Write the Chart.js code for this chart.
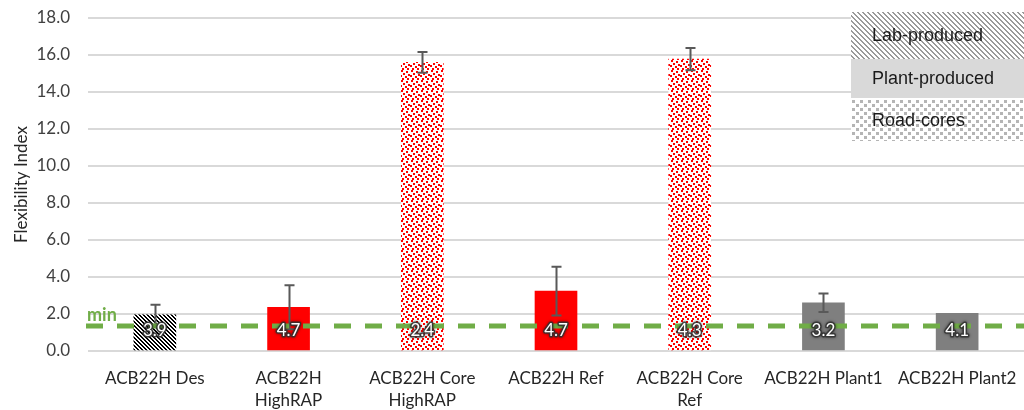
<!DOCTYPE html>
<html>
<head>
<meta charset="utf-8">
<script src="https://cdn.jsdelivr.net/npm/chart.js@4.4.1/dist/chart.umd.min.js"></script>
<style>
  html, body { margin: 0; padding: 0; background: #ffffff; }
  #wrap { width: 1024px; height: 410px; }
</style>
</head>
<body>
<div id="wrap"><canvas id="fiChart" width="1024" height="410"></canvas></div>
<script>
// Mix names (multi-line where the label wraps)
const categories = [
  ['ACB22H Des'],
  ['ACB22H', 'HighRAP'],
  ['ACB22H Core', 'HighRAP'],
  ['ACB22H Ref'],
  ['ACB22H Core', 'Ref'],
  ['ACB22H Plant1'],
  ['ACB22H Plant2']
];
// Mean flexibility index and its standard deviation
const flexIndex = [1.95, 2.36, 15.60, 3.24, 15.78, 2.61, 2.04];
const flexStdDev = [0.55, 1.19, 0.56, 1.32, 0.60, 0.50, 0];
// Values printed inside each bar
const barNotes = ['3.9', '4.7', '2.4', '4.7', '4.3', '3.2', '4.1'];
// Production type of each specimen set
const production = ['lab', 'plant', 'core', 'plant', 'core', 'plantRef', 'plantRef'];
// Minimum acceptable flexibility index
const minFI = 1.35;
// Y-axis ticks
const yMin = 0, yMax = 18, yStep = 2;
// Legend entries
const legendItems = ['Lab-produced', 'Plant-produced', 'Road-cores'];

const FONT = 'Lato, "Open Sans", sans-serif';

// ---- fill patterns ----
function makeTile(w, h, bg, painter) {
  const c = document.createElement('canvas');
  c.width = w; c.height = h;
  const g = c.getContext('2d');
  g.fillStyle = bg; g.fillRect(0, 0, w, h);
  painter(g);
  return c;
}
const pctx = document.getElementById('fiChart').getContext('2d');

// diagonal "\" stripes
function stripeTile(period, thick, color) {
  return makeTile(period, period, '#ffffff', g => {
    g.fillStyle = color;
    for (let y = 0; y < period; y++)
      for (let x = 0; x < period; x++)
        if (((x - y) % period + period) % period < thick) g.fillRect(x, y, 1, 1);
  });
}
// scattered small squares
function dotTile(size, dots, dot, color) {
  return makeTile(size, size, '#ffffff', g => {
    g.fillStyle = color;
    dots.forEach(([x, y]) => {
      g.fillRect(x, y, dot, dot);
      if (x + dot > size) g.fillRect(x - size, y, dot, dot);
      if (y + dot > size) g.fillRect(x, y - size, dot, dot);
    });
  });
}

const patLabBar = pctx.createPattern(stripeTile(4, 2, '#000000'), 'repeat');
const patLabLegend = pctx.createPattern(stripeTile(5, 2, '#9a9a9a'), 'repeat');
const patCoreBar = pctx.createPattern(
  dotTile(10, [[1, 0], [6, 1], [3, 3], [8, 4], [0, 5], [5, 6], [2, 8], [7, 8]], 2, '#ff0000'), 'repeat');
const patCoreLegend = pctx.createPattern(
  dotTile(8, [[0, 0], [4, 4]], 3, '#b5b5b5'), 'repeat');

const fillFor = {
  lab: patLabBar,
  plant: '#ff0000',
  core: patCoreBar,
  plantRef: '#7f7f7f'
};
const barFills = production.map(p => fillFor[p]);

// ---- plugins ----
const errorBars = {
  id: 'errorBars',
  afterDatasetsDraw(chart) {
    const { ctx } = chart;
    const y = chart.scales.y;
    const meta = chart.getDatasetMeta(0);
    ctx.save();
    ctx.strokeStyle = '#595959';
    ctx.lineWidth = 2;
    meta.data.forEach((bar, i) => {
      const sd = flexStdDev[i];
      if (!sd) return;
      const x = Math.round(bar.x) + 0.5;
      const yt = y.getPixelForValue(flexIndex[i] + sd);
      const yb = y.getPixelForValue(flexIndex[i] - sd);
      ctx.beginPath();
      ctx.moveTo(x, yt); ctx.lineTo(x, yb);
      ctx.moveTo(x - 5, yt); ctx.lineTo(x + 5, yt);
      ctx.moveTo(x - 5, yb); ctx.lineTo(x + 5, yb);
      ctx.stroke();
    });
    ctx.restore();
  }
};

const minLine = {
  id: 'minLine',
  afterDatasetsDraw(chart) {
    const { ctx, chartArea } = chart;
    const yp = chart.scales.y.getPixelForValue(minFI);
    ctx.save();
    ctx.strokeStyle = '#70ad47';
    ctx.lineWidth = 5;
    ctx.setLineDash([17, 14]);
    ctx.beginPath();
    ctx.moveTo(chartArea.left - 2, yp);
    ctx.lineTo(chartArea.right, yp);
    ctx.stroke();
    ctx.setLineDash([]);
    ctx.fillStyle = '#70ad47';
    ctx.font = 'bold 18px ' + FONT;
    ctx.textAlign = 'left';
    ctx.textBaseline = 'middle';
    ctx.fillText('min', chartArea.left - 1, yp - 11);
    ctx.restore();
  }
};

const barNoteLabels = {
  id: 'barNoteLabels',
  afterDatasetsDraw(chart) {
    const { ctx } = chart;
    const base = chart.scales.y.getPixelForValue(0);
    const meta = chart.getDatasetMeta(0);
    ctx.save();
    ctx.font = '17px ' + FONT;
    ctx.textAlign = 'center';
    ctx.textBaseline = 'middle';
    ctx.lineJoin = 'round';
    meta.data.forEach((bar, i) => {
      const x = bar.x, yy = base - 20;
      ctx.shadowColor = 'rgba(0,0,0,0.6)';
      ctx.shadowBlur = 3;
      ctx.strokeStyle = 'rgba(50,50,50,0.85)';
      ctx.lineWidth = 3;
      ctx.strokeText(barNotes[i], x, yy);
      ctx.shadowBlur = 0;
      ctx.shadowColor = 'transparent';
      ctx.fillStyle = '#ffffff';
      ctx.fillText(barNotes[i], x, yy);
    });
    ctx.restore();
  }
};

const productionLegend = {
  id: 'productionLegend',
  afterDraw(chart) {
    const { ctx, chartArea } = chart;
    const right = chart.width;
    const left = right - 173;
    const rows = [
      { top: chartArea.top - 6, h: 47, fill: patLabLegend },
      { top: chartArea.top + 41, h: 39, fill: '#d9d9d9' },
      { top: chartArea.top + 82, h: 41, fill: patCoreLegend }
    ];
    ctx.save();
    ctx.font = '18px "Liberation Sans", Arial, sans-serif';
    ctx.textAlign = 'left';
    ctx.textBaseline = 'middle';
    rows.forEach((r, i) => {
      ctx.fillStyle = r.fill;
      ctx.fillRect(left, r.top, right - left, r.h);
      ctx.fillStyle = '#1a1a1a';
      ctx.fillText(legendItems[i], left + 21, r.top + r.h / 2 + 1);
    });
    ctx.restore();
  }
};

new Chart(document.getElementById('fiChart'), {
  type: 'bar',
  data: {
    labels: categories,
    datasets: [{
      data: flexIndex,
      backgroundColor: barFills,
      borderWidth: 0,
      barThickness: 42
    }]
  },
  options: {
    responsive: false,
    animation: false,
    devicePixelRatio: 1,
    layout: { padding: { top: 18, right: 0, bottom: 0, left: 0 } },
    plugins: {
      legend: { display: false },
      tooltip: { enabled: false }
    },
    scales: {
      x: {
        grid: { display: false },
        border: { display: false },
        ticks: {
          color: '#262626',
          font: { family: FONT, size: 17, lineHeight: 1.3 },
          padding: 8,
          maxRotation: 0,
          minRotation: 0,
          autoSkip: false
        },
        afterFit(scale) {
          scale.height = 59;
          scale.paddingLeft = 0;
          scale.paddingRight = 0;
        }
      },
      y: {
        min: yMin,
        max: yMax,
        grid: { color: '#d9d9d9', lineWidth: 2, drawTicks: false },
        border: { display: false },
        ticks: {
          stepSize: yStep,
          color: '#404040',
          font: { family: FONT, size: 17 },
          padding: 18,
          callback: v => Number(v).toFixed(1)
        },
        title: {
          display: true,
          text: 'Flexibility Index',
          color: '#262626',
          font: { family: FONT, size: 17, lineHeight: 1.2 },
          padding: { top: 11, bottom: 0 }
        },
        afterFit(scale) {
          scale.width = 88;
          scale.paddingTop = 0;
          scale.paddingBottom = 0;
        }
      }
    }
  },
  plugins: [errorBars, minLine, barNoteLabels, productionLegend]
});
</script>
</body>
</html>
